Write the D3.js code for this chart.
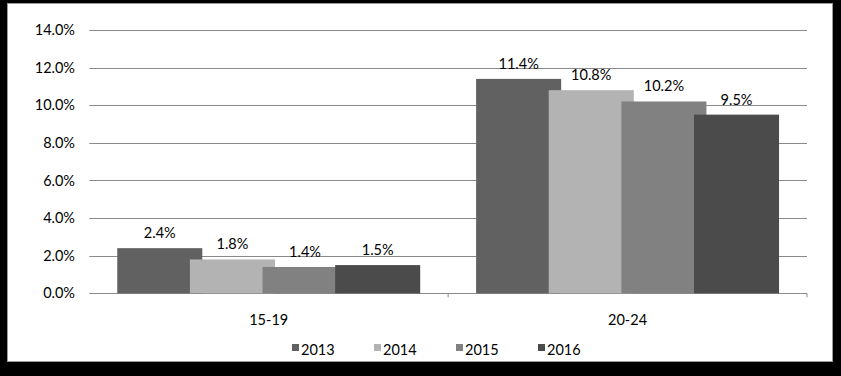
<!DOCTYPE html>
<html>
  <head>
    <meta charset="utf-8" />
    <title>Rates by age group</title>
    <script src="https://d3js.org/d3.v7.min.js"></script>
    <style>
      body {
        margin: 0;
        background: #000;
      }
      svg {
        display: block;
        font-family: Lato, "Open Sans", sans-serif;
      }
    </style>
  </head>
  <body>
    <svg width="841" height="376"></svg>

    <script>
      // data
      const categories = ["15-19", "20-24"];
      const years = ["2013", "2014", "2015", "2016"];
      const values2013 = [2.4, 11.4];
      const values2014 = [1.8, 10.8];
      const values2015 = [1.4, 10.2];
      const values2016 = [1.5, 9.5];
      const yTicks = [0, 2, 4, 6, 8, 10, 12, 14];

      const series = [values2013, values2014, values2015, values2016];
      const colors = ["#616161", "#b3b3b3", "#818181", "#4b4b4b"];

      const svg = d3.select("svg");
      const fontSize = 14.5;

      // white chart area
      svg.append("rect")
        .attr("x", 7.5).attr("y", 3.5)
        .attr("width", 825).attr("height", 358)
        .attr("fill", "#fff")
        .attr("stroke", "#9a9a9a");

      const plotLeft = 89.3, plotRight = 807, plotTop = 30, plotBottom = 293.3;

      const x0 = d3.scaleBand().domain(categories).range([plotLeft, plotRight]);
      const y = d3.scaleLinear().domain([0, 14]).range([plotBottom, plotTop]);
      const bw = x0.bandwidth();
      const offset = d3.scalePoint().domain(years).range([-0.3036 * bw, 0.3036 * bw]);
      const barWidth = bw * 0.237;

      // gridlines
      svg.append("g")
        .selectAll("line")
        .data(yTicks)
        .join("line")
        .attr("x1", plotLeft).attr("x2", plotRight)
        .attr("y1", d => Math.round(y(d)) + 0.5)
        .attr("y2", d => Math.round(y(d)) + 0.5)
        .attr("stroke", "#8a8a8a")
        .attr("stroke-width", 1.2);

      // y tick labels
      svg.append("g")
        .selectAll("text")
        .data(yTicks)
        .join("text")
        .attr("x", 75)
        .attr("y", d => y(d))
        .attr("dy", "0.35em")
        .attr("text-anchor", "end")
        .attr("font-size", fontSize)
        .text(d => d3.format(".1f")(d) + "%");

      // category ticks
      svg.append("g")
        .selectAll("line")
        .data([x0(categories[1]), plotRight])
        .join("line")
        .attr("x1", d => d).attr("x2", d => d)
        .attr("y1", plotBottom).attr("y2", plotBottom + 4)
        .attr("stroke", "#8a8a8a");

      // bars, later years drawn over earlier ones
      years.forEach((yr, i) => {
        const g = svg.append("g");
        const cx = c => x0(c) + bw / 2 + offset(yr);
        g.selectAll("rect")
          .data(categories)
          .join("rect")
          .attr("x", c => cx(c) - barWidth / 2)
          .attr("width", barWidth)
          .attr("y", (c, j) => y(series[i][j]))
          .attr("height", (c, j) => plotBottom - y(series[i][j]))
          .attr("fill", colors[i]);
        g.selectAll("text")
          .data(categories)
          .join("text")
          .attr("x", cx)
          .attr("y", (c, j) => y(series[i][j]) - 10)
          .attr("text-anchor", "middle")
          .attr("font-size", fontSize)
          .text((c, j) => d3.format(".1f")(series[i][j]) + "%");
      });

      // category labels
      svg.append("g")
        .selectAll("text")
        .data(categories)
        .join("text")
        .attr("x", c => x0(c) + bw / 2)
        .attr("y", 320)
        .attr("dy", "0.35em")
        .attr("text-anchor", "middle")
        .attr("font-size", fontSize)
        .text(c => c);

      // legend
      const legend = svg.append("g")
        .selectAll("g")
        .data(years)
        .join("g")
        .attr("transform", (d, i) => `translate(${292 + i * 82}, 350)`);
      legend.append("rect")
        .attr("x", 0).attr("y", -6)
        .attr("width", 7).attr("height", 7)
        .attr("fill", (d, i) => colors[i]);
      legend.append("text")
        .attr("x", 9)
        .attr("y", 0)
        .attr("dy", "0.35em")
        .attr("font-size", fontSize)
        .text(d => d);
    </script>
  </body>
</html>
